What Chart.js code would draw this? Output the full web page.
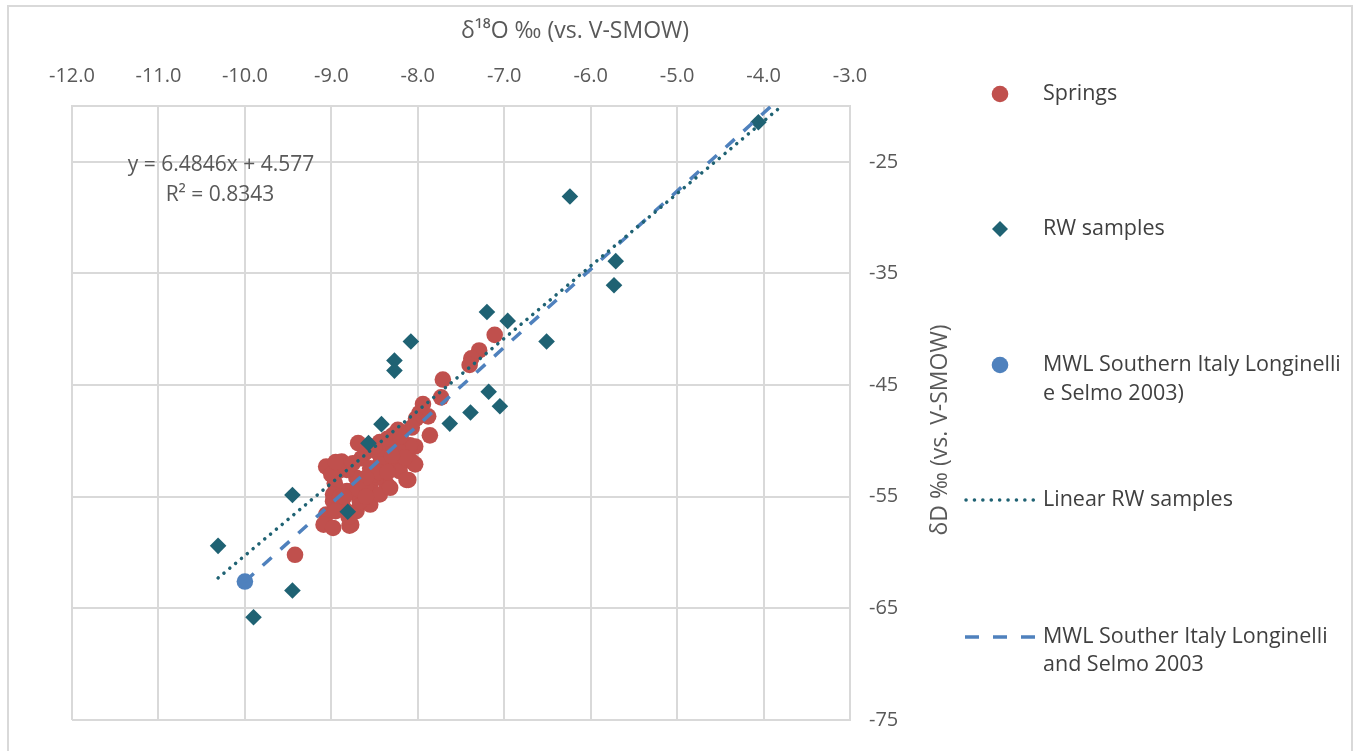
<!DOCTYPE html>
<html>
<head>
<meta charset="utf-8">
<script src="https://cdn.jsdelivr.net/npm/chart.js@4.4.1/dist/chart.umd.min.js"></script>
<style>
  html, body { margin: 0; padding: 0; background: #ffffff; }
  #wrap { position: relative; width: 1359px; height: 751px; overflow: hidden; }
  #frame { position: absolute; left: 7px; top: 5px; width: 1346px; height: 800px; border: 2px solid #d9d9d9; box-sizing: border-box; }
  canvas { position: absolute; left: 0; top: 0; }
</style>
</head>
<body>
<div id="wrap">
  <div id="frame"></div>
  <canvas id="c" width="1359" height="751"></canvas>
</div>
<script>
// ---- Data ----
const xTicks = [-12, -11, -10, -9, -8, -7, -6, -5, -4, -3];
const yTicks = [-75, -65, -55, -45, -35, -25];

const springsX = [-7.11, -7.29, -7.38, -7.40, -7.71, -7.73, -7.94, -7.88, -7.98, -7.86, -8.02, -8.07, -8.03, -8.07, -8.11,
  -8.23, -8.29, -8.36, -8.44, -8.29, -8.21, -8.36, -8.69, -8.65, -8.55, -8.71, -8.55, -8.48, -8.88, -9.06,
  -8.92, -8.82, -8.96, -8.82, -8.67, -8.98, -8.86, -9.06, -9.09, -8.98, -8.79, -8.71, -8.55, -8.44, -8.44,
  -9.42, -8.13, -8.44, -8.09, -8.23, -8.03, -8.13, -8.32, -8.98, -8.77, -8.67, -8.60, -8.50, -8.75, -8.90,
  -8.90, -8.75, -8.60, -8.50, -8.35, -8.20, -8.15, -8.30, -8.45, -8.60, -8.70, -8.85, -8.95, -8.80, -8.60,
  -8.35, -9.00, -8.95];
const springsY = [-40.5, -41.9, -42.6, -43.2, -44.5, -46.1, -46.7, -47.8, -47.5, -49.5, -48.0, -48.8, -50.5, -51.85, -53.5,
  -49.0, -49.5, -50.4, -51.25, -52.1, -52.7, -53.9, -50.2, -51.55, -52.45, -53.3, -53.9, -53.3, -51.85, -52.3,
  -52.7, -52.6, -53.8, -54.5, -55.1, -55.4, -56.0, -56.6, -57.5, -57.8, -57.6, -56.3, -55.7, -54.8, -52.1,
  -60.2, -50.7, -50.1, -50.4, -50.8, -52.1, -53.5, -54.2, -54.8, -57.5, -55.4, -54.0, -53.0, -54.5, -55.0,
  -52.0, -52.0, -51.0, -50.5, -49.8, -49.6, -51.5, -51.3, -52.8, -53.3, -54.3, -55.0, -56.3, -56.8, -55.0,
  -52.8, -53.0, -51.9];

const rwX = [-10.31, -9.90, -9.45, -9.45, -8.81, -8.57, -8.42, -8.27, -8.27, -8.08, -7.63, -7.39, -7.20, -7.18,
  -7.05, -6.96, -6.51, -6.24, -5.73, -5.71, -4.06];
const rwY = [-59.4, -65.8, -54.85, -63.4, -56.35, -50.2, -48.5, -42.8, -43.7, -41.1, -48.45, -47.45, -38.45, -45.6,
  -46.9, -39.25, -41.1, -28.1, -36.05, -33.9, -21.45];

const mwlPointX = [-10.0];
const mwlPointY = [-62.6];

const trendX = [-10.31, -3.79];
const trendY = [-62.28, -20.0];

const mwlLineX = [-10.0, -3.91];
const mwlLineY = [-62.6, -20.0];

// ---- Styling ----
const RED = '#C0504D';
const TEAL = '#1F6273';
const BLUE = '#4F81BD';
const GRID = '#d9d9d9';
const TXT = '#595959';
const FONT = "'Open Sans', 'Noto Sans', sans-serif";

const pts = (xs, ys) => xs.map((x, i) => ({ x: x, y: ys[i] }));

const overlay = {
  id: 'overlay',
  afterDraw(chart) {
    const ctx = chart.ctx;
    ctx.save();
    // axis titles
    ctx.fillStyle = TXT;
    ctx.font = '23px ' + FONT;
    ctx.textAlign = 'center';
    ctx.textBaseline = 'middle';
    ctx.fillText('δ¹⁸O ‰ (vs. V-SMOW)', 575, 31);
    ctx.save();
    ctx.translate(940, 430);
    ctx.rotate(-Math.PI / 2);
    ctx.fillText('δD ‰ (vs. V-SMOW)', 0, 0);
    ctx.restore();
    // trendline equation
    ctx.font = '21px ' + FONT;
    ctx.fillText('y = 6.4846x + 4.577', 221, 165);
    ctx.fillText('R² = 0.8343', 220, 195);

    // legend
    ctx.textAlign = 'left';
    ctx.font = '21.5px ' + FONT;
    const tx = 1043;
    // Springs
    ctx.fillStyle = RED;
    ctx.beginPath(); ctx.arc(1000, 94, 8.3, 0, Math.PI * 2); ctx.fill();
    ctx.fillStyle = '#404040';
    ctx.fillText('Springs', tx, 94);
    // RW samples
    ctx.fillStyle = TEAL;
    ctx.beginPath();
    ctx.moveTo(1000, 229 - 8); ctx.lineTo(1008, 229); ctx.lineTo(1000, 229 + 8); ctx.lineTo(992, 229);
    ctx.closePath(); ctx.fill();
    ctx.fillStyle = '#404040';
    ctx.fillText('RW samples', tx, 229);
    // MWL point
    ctx.fillStyle = BLUE;
    ctx.beginPath(); ctx.arc(1000, 365, 8.3, 0, Math.PI * 2); ctx.fill();
    ctx.fillStyle = '#404040';
    ctx.fillText('MWL Southern Italy Longinelli', tx, 365);
    ctx.fillText('e Selmo 2003)', tx, 394);
    // Linear RW samples (dotted)
    ctx.strokeStyle = TEAL;
    ctx.lineWidth = 3.5;
    ctx.lineCap = 'round';
    ctx.setLineDash([0.1, 8.3]);
    ctx.beginPath(); ctx.moveTo(966, 500); ctx.lineTo(1034, 500); ctx.stroke();
    ctx.fillText('Linear RW samples', tx, 500);
    // MWL line (dashed)
    ctx.strokeStyle = BLUE;
    ctx.lineCap = 'butt';
    ctx.setLineDash([14, 14]);
    ctx.beginPath(); ctx.moveTo(965, 637); ctx.lineTo(1036, 637); ctx.stroke();
    ctx.setLineDash([]);
    ctx.fillStyle = '#404040';
    ctx.fillText('MWL Souther Italy Longinelli', tx, 637);
    ctx.fillText('and Selmo 2003', tx, 665);
    ctx.restore();
  }
};

new Chart(document.getElementById('c'), {
  type: 'scatter',
  data: {
    datasets: [
      { label: 'Linear RW samples', data: pts(trendX, trendY), showLine: true, pointRadius: 0,
        borderColor: TEAL, borderWidth: 3.5, borderDash: [0.1, 7.5], borderCapStyle: 'round', order: 0 },
      { label: 'MWL Souther Italy Longinelli and Selmo 2003', data: pts(mwlLineX, mwlLineY), showLine: true, pointRadius: 0,
        borderColor: BLUE, borderWidth: 3.5, borderDash: [12, 12], order: 1 },
      { label: 'MWL Southern Italy Longinelli e Selmo 2003)', data: pts(mwlPointX, mwlPointY), pointRadius: 8.3,
        pointBorderWidth: 0, backgroundColor: BLUE, borderColor: BLUE, order: 2 },
      { label: 'RW samples', data: pts(rwX, rwY), pointStyle: 'rectRot', pointRadius: 8.3, pointBorderWidth: 0,
        backgroundColor: TEAL, borderColor: TEAL, order: 3 },
      { label: 'Springs', data: pts(springsX, springsY), pointRadius: 8.3, pointBorderWidth: 0,
        backgroundColor: RED, borderColor: RED, order: 4 }
    ]
  },
  options: {
    responsive: false,
    animation: false,
    layout: { padding: { left: 72, top: 20, right: 1359 - 850 - 80, bottom: 28 } },
    plugins: { legend: { display: false }, tooltip: { enabled: false } },
    elements: { point: { hoverRadius: 8.3 } },
    scales: {
      x: {
        type: 'linear', position: 'top', min: -12, max: -3,
        afterBuildTicks: (s) => { s.ticks = xTicks.map(v => ({ value: v })); },
        afterFit: (s) => { s.height = 86; },
        ticks: { color: TXT, font: { family: FONT, size: 20 }, padding: 18, maxRotation: 0,
                 callback: (v) => Number(v).toFixed(1) },
        grid: { color: GRID, lineWidth: 2, drawTicks: false, tickLength: 0 },
        border: { display: true, color: GRID, width: 2 }
      },
      y: {
        type: 'linear', position: 'right', min: -75, max: -20,
        afterBuildTicks: (s) => { s.ticks = yTicks.map(v => ({ value: v })); },
        afterFit: (s) => { s.width = 80; },
        ticks: { color: TXT, font: { family: FONT, size: 20 }, padding: 19,
                 callback: (v) => String(v) },
        grid: { color: GRID, lineWidth: 2, drawTicks: false, tickLength: 0 },
        border: { display: true, color: GRID, width: 2 }
      }
    }
  },
  plugins: [overlay]
});
</script>
</body>
</html>
